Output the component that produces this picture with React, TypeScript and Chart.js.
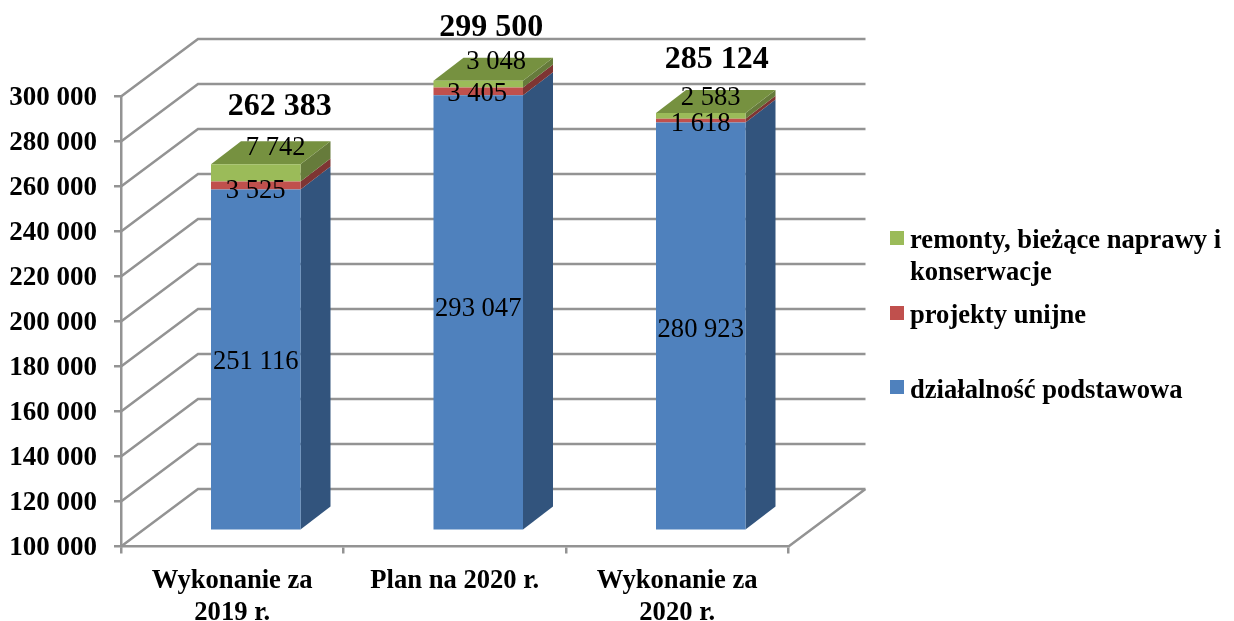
import React, { useEffect, useRef } from "react";
import { Chart, registerables } from "chart.js";

Chart.register(...registerables);

const categories: string[][] = [["Wykonanie za", "2019 r."], ["Plan na 2020 r."], ["Wykonanie za", "2020 r."]];
const podstawowa = [251116, 293047, 280923];
const unijne = [3525, 3405, 1618];
const remonty = [7742, 3048, 2583];
const totals = [262383, 299500, 285124];
const legendPodstawowa = ["działalność podstawowa"];
const legendUnijne = ["projekty unijne"];
const legendRemonty = ["remonty, bieżące naprawy i", "konserwacje"];

const FONT = '"Liberation Serif", serif';
const GRID = "#939393";
const WALL = { dx: 77, dy: -57.5 };
const BAR_SHIFT = { dx: 23.5, dy: -17 };
const DEPTH = { dx: 30, dy: -23 };
const seriesStyle = [
  { front: "#4f81bd", side: "#32547d", top: "#3f6797", legendY: 387, textY: [391] },
  { front: "#c0504d", side: "#7e3533", top: "#9a403e", legendY: 313, textY: [316] },
  { front: "#9bbb59", side: "#667b3b", top: "#769140", legendY: 238, textY: [241, 273] },
];
// hand placement of the value labels relative to each segment's centre, per bar
const labelNudge = [
  [{ x: 0, y: 3 }, { x: 0, y: 5 }, { x: 20, y: -25 }],
  [{ x: 0, y: -3 }, { x: -1, y: 3 }, { x: 18, y: -22 }],
  [{ x: 0, y: 4 }, { x: 0, y: 3 }, { x: 10, y: -18 }],
];
const totalNudge = [{ x: 24, y: -57 }, { x: 13, y: -53 }, { x: 16, y: -53 }];

const fmt = (v: number) => String(v).replace(/\B(?=(\d{3})+(?!\d))/g, " ");

const scene3d = {
  id: "scene3d",
  beforeDatasetsDraw(chart: any) {
    const { ctx, chartArea: a, scales } = chart;
    ctx.save();
    ctx.strokeStyle = GRID;
    ctx.lineWidth = 2.5;
    ctx.beginPath();
    for (const t of scales.y.ticks) {
      const y = scales.y.getPixelForValue(t.value);
      ctx.moveTo(a.left, y);
      ctx.lineTo(a.left + WALL.dx, y + WALL.dy);
      ctx.lineTo(a.right + WALL.dx, y + WALL.dy);
    }
    ctx.moveTo(a.right, a.bottom);
    ctx.lineTo(a.right + WALL.dx, a.bottom + WALL.dy);
    ctx.stroke();
    ctx.restore();

    ctx.save();
    ctx.translate(BAR_SHIFT.dx, BAR_SHIFT.dy);
    chart.data.datasets.forEach((_: any, di: number) => {
      const last = di === chart.data.datasets.length - 1;
      chart.getDatasetMeta(di).data.forEach((el: any) => {
        const r = el.x + el.width / 2;
        const l = el.x - el.width / 2;
        const top = el.y;
        const bottom = Math.min(el.base, a.bottom);
        ctx.fillStyle = seriesStyle[di].side;
        ctx.beginPath();
        ctx.moveTo(r, top);
        ctx.lineTo(r + DEPTH.dx, top + DEPTH.dy);
        ctx.lineTo(r + DEPTH.dx, bottom + DEPTH.dy);
        ctx.lineTo(r, bottom);
        ctx.closePath();
        ctx.fill();
        if (last) {
          ctx.fillStyle = seriesStyle[di].top;
          ctx.beginPath();
          ctx.moveTo(l, top);
          ctx.lineTo(l + DEPTH.dx, top + DEPTH.dy);
          ctx.lineTo(r + DEPTH.dx, top + DEPTH.dy);
          ctx.lineTo(r, top);
          ctx.closePath();
          ctx.fill();
        }
      });
    });
  },
  afterDatasetsDraw(chart: any) {
    const { ctx, chartArea: a } = chart;
    ctx.restore();

    ctx.save();
    ctx.textAlign = "center";
    ctx.textBaseline = "middle";
    ctx.fillStyle = "#000";
    ctx.font = `26.6px ${FONT}`;
    chart.data.datasets.forEach((ds: any, di: number) => {
      chart.getDatasetMeta(di).data.forEach((el: any, i: number) => {
        const bottom = Math.min(el.base, a.bottom);
        const n = labelNudge[i][di];
        ctx.fillText(fmt(ds.data[i]), el.x + BAR_SHIFT.dx + n.x, (el.y + bottom) / 2 + BAR_SHIFT.dy + n.y);
      });
    });
    ctx.font = `bold 32px ${FONT}`;
    const lastMeta = chart.getDatasetMeta(chart.data.datasets.length - 1);
    lastMeta.data.forEach((el: any, i: number) => {
      const n = totalNudge[i];
      ctx.fillText(fmt(totals[i]), el.x + BAR_SHIFT.dx + n.x, el.y + BAR_SHIFT.dy + n.y);
    });

    // legend
    ctx.textAlign = "left";
    ctx.font = `bold 26.6px ${FONT}`;
    chart.data.datasets.forEach((ds: any, di: number) => {
      const st = seriesStyle[di];
      ctx.fillStyle = st.front;
      ctx.fillRect(890, st.legendY - 7, 14, 14);
      ctx.fillStyle = "#000";
      (ds.legendLines as string[]).forEach((line, k) => ctx.fillText(line, 910, st.textY[k]));
    });
    ctx.restore();
  },
};

export default function App() {
  const ref = useRef<HTMLCanvasElement>(null);
  useEffect(() => {
    const chart = new Chart(ref.current!, {
      type: "bar",
      plugins: [scene3d],
      data: {
        labels: categories as any,
        datasets: [
          { label: legendPodstawowa.join(" "), legendLines: legendPodstawowa, data: podstawowa, backgroundColor: seriesStyle[0].front },
          { label: legendUnijne.join(" "), legendLines: legendUnijne, data: unijne, backgroundColor: seriesStyle[1].front },
          { label: legendRemonty.join(" "), legendLines: legendRemonty, data: remonty, backgroundColor: seriesStyle[2].front },
        ].map((d) => ({
          ...d,
          barPercentage: 89.5 / 222.5,
          categoryPercentage: 1,
          clip: { left: false, top: false, right: false, bottom: 0 },
        })) as any,
      },
      options: {
        responsive: false,
        animation: false,
        layout: { padding: { top: 96.5, right: 445.5, left: 0, bottom: 0 } },
        plugins: { legend: { display: false }, tooltip: { enabled: false } },
        scales: {
          x: {
            stacked: true,
            afterFit: (s: any) => { s.height = 74.5; },
            grid: { drawOnChartArea: false, drawTicks: true, tickLength: 7, color: GRID, lineWidth: 2.5 },
            border: { color: GRID, width: 2.5 },
            ticks: { color: "#000", font: { family: FONT, size: 26.6, weight: "bold" }, maxRotation: 0, autoSkip: false, padding: 12 },
          },
          y: {
            stacked: true,
            min: 100000,
            max: 300000,
            afterFit: (s: any) => { s.width = 121; },
            grid: { drawOnChartArea: false, drawTicks: true, tickLength: 7, color: GRID, lineWidth: 2.5 },
            border: { color: GRID, width: 2.5 },
            ticks: { stepSize: 20000, color: "#000", font: { family: FONT, size: 27, weight: "bold" }, padding: 17, labelOffset: 2, callback: (v: any) => fmt(Number(v)) },
          },
        },
      } as any,
    });
    return () => chart.destroy();
  }, []);
  return <canvas ref={ref} width={1234} height={621} style={{ position: "absolute", left: 0, top: 0, width: 1234, height: 621 }} />;
}
